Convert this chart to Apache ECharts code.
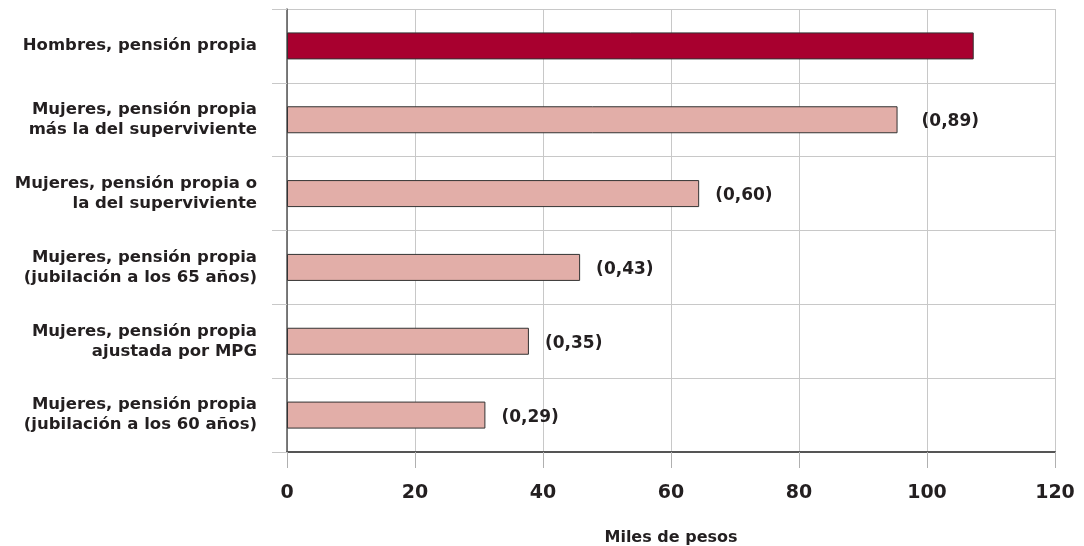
<!DOCTYPE html>
<html>
<head>
<meta charset="utf-8">
<script src="https://cdn.jsdelivr.net/npm/echarts@6/dist/echarts.min.js"></script>
<style>
html,body{margin:0;padding:0;background:#fff;}
#chart{width:1084px;height:546px;}
</style>
</head>
<body>
<div id="chart"></div>
<script>
const categories = [
  "Hombres, pensión propia",
  "Mujeres, pensión propia\nmás la del superviviente",
  "Mujeres, pensión propia o\nla del superviviente",
  "Mujeres, pensión propia\n(jubilación a los 65 años)",
  "Mujeres, pensión propia\najustada por MPG",
  "Mujeres, pensión propia\n(jubilación a los 60 años)"
];
const values = [107.3, 95.4, 64.4, 45.8, 37.8, 31.0];
const ratioLabels = ["", "(0,89)", "(0,60)", "(0,43)", "(0,35)", "(0,29)"];
const xTicks = [0, 20, 40, 60, 80, 100, 120];
const axisTitle = "Miles de pesos";

const menColor = "#a8002f";
const womenColor = "#e2aea8";
const textColor = "#231f20";
const gridColor = "#c8c8c8";
const fontFam = "'DejaVu Sans', sans-serif";

const chart = echarts.init(document.getElementById('chart'));
chart.setOption({
  animation: false,
  grid: { left: 287, right: 29, top: 9, bottom: 94, containLabel: false, outerBoundsMode: 'none' },
  xAxis: {
    type: 'value',
    min: xTicks[0],
    max: xTicks[xTicks.length - 1],
    interval: 20,
    name: axisTitle,
    nameLocation: 'middle',
    nameGap: 78,
    nameTextStyle: { fontFamily: fontFam, fontWeight: 'bold', fontSize: 16, color: textColor },
    axisLine: { show: true, onZero: false, lineStyle: { color: '#555', width: 2 } },
    axisTick: { show: true, inside: false, length: 16, lineStyle: { color: '#b0b0b0', width: 1 } },
    axisLabel: { margin: 32, fontFamily: fontFam, fontWeight: 'bold', fontSize: 19, color: textColor, hideOverlap: false },
    splitLine: { show: true, lineStyle: { color: gridColor, width: 1 } }
  },
  yAxis: {
    type: 'category',
    data: categories,
    inverse: true,
    axisLine: { show: true, lineStyle: { color: '#555', width: 1.5 } },
    axisTick: { show: true, length: 15, lineStyle: { color: gridColor, width: 1 } },
    axisLabel: { margin: 30, fontFamily: fontFam, fontWeight: 'bold', fontSize: 16.5, lineHeight: 20, color: textColor, align: 'right' },
    splitLine: { show: true, lineStyle: { color: gridColor, width: 1 } }
  },
  series: [{
    type: 'bar',
    data: values.map((v, i) => ({
      value: v,
      itemStyle: { color: i === 0 ? menColor : womenColor, borderColor: '#333', borderWidth: 1 },
      label: { distance: i === 1 ? 24 : 16 }
    })),
    barWidth: 27,
    label: {
      show: true,
      position: 'right',
      distance: 16,
      offset: [0, 2],
      formatter: p => ratioLabels[p.dataIndex],
      fontFamily: fontFam,
      fontWeight: 'bold',
      fontSize: 17,
      color: textColor
    }
  }]
});
</script>
</body>
</html>
